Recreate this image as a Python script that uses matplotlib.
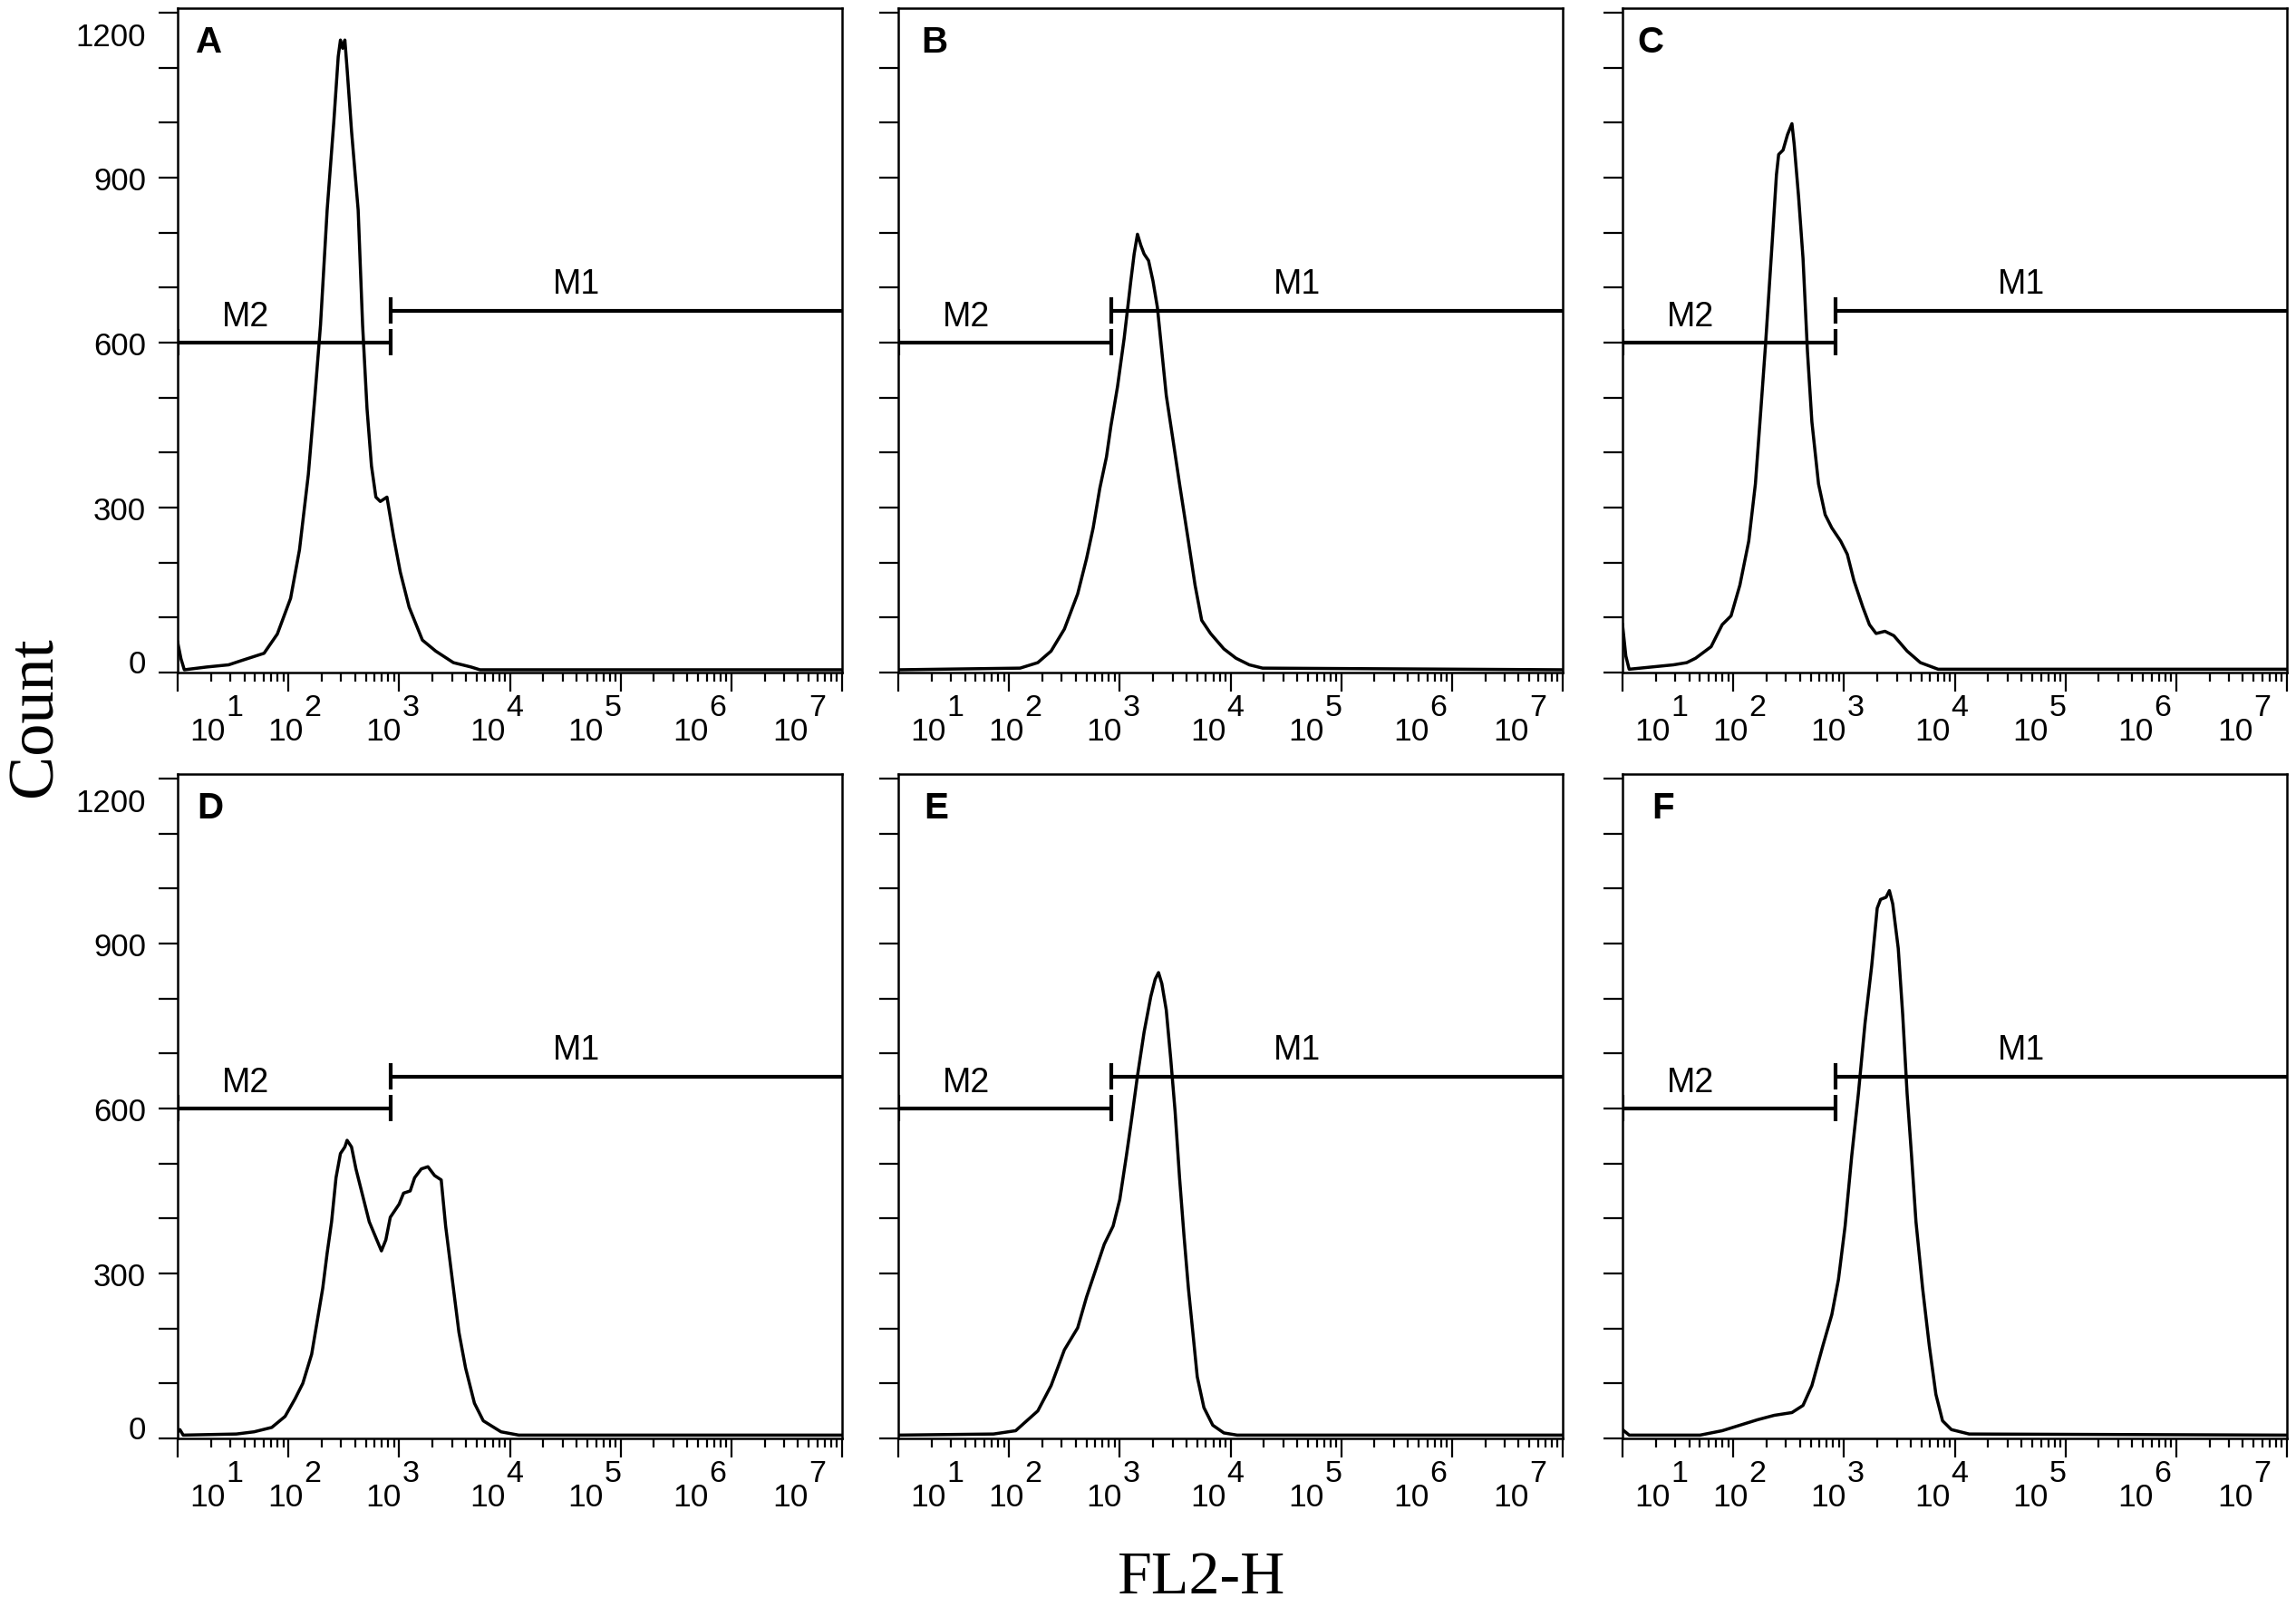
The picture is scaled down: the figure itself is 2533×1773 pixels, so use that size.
import numpy as np
import matplotlib
matplotlib.use('Agg')
import matplotlib.pyplot as plt
from matplotlib.ticker import FixedLocator, NullFormatter
from matplotlib.transforms import ScaledTranslation

# Histogram traces.
# x is log10 of FL2-H measured from the left edge of the axis (one decade per major tick),
# y is the event count.
a_log = [0.00, 0.03, 0.06, 0.26, 0.46, 0.58, 0.78, 0.90, 1.02, 1.10, 1.18, 1.24, 1.29, 1.35,
         1.41, 1.45, 1.47, 1.49, 1.51, 1.53, 1.57, 1.63, 1.67, 1.71, 1.75, 1.79, 1.83, 1.89,
         1.95, 2.01, 2.09, 2.21, 2.33, 2.49, 2.65, 2.73, 6.00]
a_count = [55, 25, 5, 10, 14, 22, 35, 70, 135, 223, 360, 504, 632, 841,
           1001, 1120, 1150, 1135, 1150, 1098, 985, 841, 632, 480, 376, 319, 311, 319,
           247, 183, 119, 59, 39, 18, 10, 5, 5]

b_log = [0.00, 1.10, 1.26, 1.38, 1.50, 1.62, 1.70, 1.76, 1.82, 1.88, 1.92, 1.98, 2.04, 2.10,
         2.13, 2.16, 2.19, 2.22, 2.26, 2.30, 2.34, 2.38, 2.42, 2.48, 2.54, 2.62, 2.68, 2.74,
         2.82, 2.94, 3.05, 3.17, 3.29, 6.00]
b_count = [5, 8, 18, 39, 79, 143, 207, 263, 335, 392, 448, 520, 608, 712,
           761, 797, 777, 761, 749, 712, 664, 584, 504, 424, 343, 239, 159, 95,
           71, 43, 26, 14, 8, 5]

c_log = [0.00, 0.03, 0.06, 0.26, 0.46, 0.58, 0.66, 0.80, 0.90, 0.98, 1.06, 1.14, 1.20, 1.25,
         1.29, 1.35, 1.39, 1.41, 1.45, 1.49, 1.53, 1.55, 1.59, 1.63, 1.67, 1.71, 1.77, 1.83,
         1.89, 1.97, 2.03, 2.09, 2.17, 2.23, 2.29, 2.37, 2.45, 2.57, 2.69, 2.85, 6.00]
c_count = [87, 30, 6, 10, 14, 18, 26, 47, 87, 103, 159, 239, 343, 480,
           592, 777, 905, 942, 950, 978, 998, 961, 865, 753, 584, 456, 343, 287,
           263, 239, 215, 167, 119, 87, 71, 75, 67, 39, 18, 6, 6]

d_log = [0.00, 0.02, 0.05, 0.53, 0.69, 0.85, 0.97, 1.06, 1.13, 1.21, 1.27, 1.31, 1.35, 1.39,
         1.43, 1.47, 1.51, 1.53, 1.57, 1.61, 1.67, 1.73, 1.79, 1.84, 1.88, 1.92, 1.96, 2.00,
         2.04, 2.10, 2.14, 2.20, 2.26, 2.32, 2.38, 2.42, 2.48, 2.54, 2.60, 2.68, 2.76, 2.92,
         3.08, 6.00]
d_count = [12, 16, 6, 8, 12, 20, 40, 72, 100, 153, 225, 273, 337, 394,
           474, 518, 530, 542, 530, 490, 442, 394, 365, 341, 361, 402, 414, 426,
           446, 450, 474, 490, 494, 478, 470, 386, 289, 193, 128, 64, 32, 12,
           6, 6]

e_log = [0.00, 0.86, 1.06, 1.26, 1.38, 1.50, 1.62, 1.70, 1.78, 1.86, 1.94, 2.00, 2.06, 2.10,
         2.16, 2.22, 2.28, 2.32, 2.35, 2.38, 2.42, 2.46, 2.50, 2.54, 2.58, 2.62, 2.66, 2.70,
         2.76, 2.84, 2.94, 3.06, 6.00]
e_count = [6, 8, 14, 50, 96, 161, 201, 257, 305, 353, 386, 434, 514, 570,
           659, 739, 803, 835, 847, 827, 779, 691, 594, 474, 369, 273, 193, 112,
           56, 24, 10, 6, 6]

f_log = [0.00, 0.06, 0.70, 0.90, 1.06, 1.22, 1.37, 1.53, 1.63, 1.71, 1.81, 1.89, 1.95, 2.01,
         2.07, 2.13, 2.19, 2.25, 2.30, 2.33, 2.38, 2.41, 2.44, 2.49, 2.53, 2.57, 2.61, 2.65,
         2.71, 2.77, 2.83, 2.89, 2.97, 3.13, 6.00]
f_count = [16, 6, 6, 14, 24, 34, 42, 47, 60, 96, 169, 225, 289, 386,
           514, 627, 755, 859, 964, 980, 984, 996, 972, 891, 771, 627, 514, 394,
           273, 169, 80, 32, 16, 8, 6]

panel_letters = ['A', 'B', 'C', 'D', 'E', 'F']
traces = [(a_log, a_count), (b_log, b_count), (c_log, c_count),
          (d_log, d_count), (e_log, e_count), (f_log, f_count)]

# marker gates
gate_split = 1.92      # log10 position where M2 ends and M1 starts
m2_level = 600
m1_level = 658
m2_label_pos = (0.61, 632)
m1_label_pos = (3.6, 690)

y_major = [0, 300, 600, 900, 1200]
y_minor = [100, 200, 400, 500, 700, 800, 1000, 1100]
x_exponents = ['1', '2', '3', '4', '5', '6', '7']

# ---- layout (pixel geometry of the original figure) ----
W, H = 2533, 1774
ax_size = 733
lefts = [196, 991, 1790]
tops = [10, 855]
letter_x = [0.027, 0.034, 0.022, 0.029, 0.039, 0.044]
# where each "10^k" label starts, as a fraction of the axis width
exp_label_x = [0.018, 0.135, 0.283, 0.440, 0.587, 0.745, 0.895]

sans = ['Liberation Sans', 'DejaVu Sans']
serif = ['Liberation Serif', 'DejaVu Serif']
plt.rcParams['font.family'] = sans

fig = plt.figure(figsize=(W / 100, H / 100), dpi=100)

for i, (xs, ys) in enumerate(traces):
    row, col = divmod(i, 3)
    ax = fig.add_axes([lefts[col] / W, 1 - (tops[row] + ax_size) / H,
                       ax_size / W, ax_size / H])

    ax.plot(10 ** np.array(xs), ys, color='black', lw=2.5)

    # gates
    g = 10 ** gate_split
    ax.plot([1, g], [m2_level, m2_level], color='black', lw=3.0, solid_capstyle='butt')
    ax.plot([g, 1e6], [m1_level, m1_level], color='black', lw=3.0, solid_capstyle='butt')
    ax.vlines([1, g], m2_level - 24, m2_level + 24, color='black', lw=3.0)
    ax.vlines([g], m1_level - 24, m1_level + 24, color='black', lw=3.0)
    ax.text(10 ** m2_label_pos[0], m2_label_pos[1], 'M2', ha='center', va='baseline',
            fontsize=27)
    ax.text(10 ** m1_label_pos[0], m1_label_pos[1], 'M1', ha='center', va='baseline',
            fontsize=27)

    ax.text(letter_x[i], 1 - 48 / ax_size, panel_letters[i], transform=ax.transAxes,
            fontsize=29, fontweight='bold', va='baseline', ha='left')

    ax.set_xscale('log')
    ax.set_xlim(1, 1e6)
    ax.set_ylim(0, 1208)

    ax.xaxis.set_major_locator(FixedLocator([10.0 ** k for k in range(7)]))
    ax.xaxis.set_minor_locator(FixedLocator([m * 10.0 ** k for k in range(6) for m in range(2, 10)]))
    ax.xaxis.set_minor_formatter(NullFormatter())
    ax.set_yticks(y_major)
    ax.set_yticks(y_minor, minor=True)

    ax.tick_params(axis='x', which='major', direction='out', length=15, width=1.6,
                   labelbottom=False)
    ax.tick_params(axis='x', which='minor', direction='out', length=7.5, width=1.6)
    ax.tick_params(axis='y', which='both', direction='out', length=15, width=1.6)
    ax.tick_params(axis='y', which='major', pad=10, labelsize=25, labelleft=(col == 0))

    for sp in ax.spines.values():
        sp.set_linewidth(1.8)

    # decade labels drawn the way the cytometer software places them
    for xf, e in zip(exp_label_x, x_exponents):
        ax.annotate('10', xy=(xf, 0), xycoords='axes fraction',
                    xytext=(0, -74), textcoords='offset pixels',
                    ha='left', va='baseline', fontsize=25.5)
        ax.annotate(e, xy=(xf, 0), xycoords='axes fraction',
                    xytext=(40, -47), textcoords='offset pixels',
                    ha='left', va='baseline', fontsize=24.5)

    if col == 0:
        labels = ax.get_yticklabels()
        labels[0].set_va('baseline')
        labels[-1].set_va('top')
        labels[-1].set_transform(labels[-1].get_transform() +
                                 ScaledTranslation(0, -10 / 100, fig.dpi_scale_trans))

fig.text(39 / W, 1 - 791 / H, 'Count', rotation=90, ha='center', va='center',
         fontsize=52, family=serif)
fig.text(1325 / W, 1 - 1758 / H, 'FL2-H', ha='center', va='baseline',
         fontsize=49, family=serif)

fig.savefig('out.png', dpi=100)
